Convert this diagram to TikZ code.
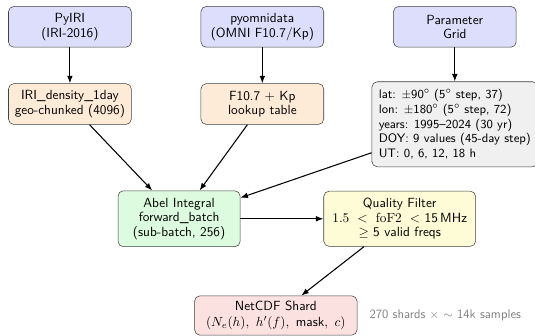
\documentclass[tikz,border=0pt]{standalone}
\usepackage{amsmath,amssymb}
\usepackage{tikz}
\usetikzlibrary{arrows.meta,positioning}
\definecolor{csrc}{RGB}{221,221,252}
\definecolor{cdata}{RGB}{253,235,215}
\definecolor{cgrid}{RGB}{240,240,240}
\definecolor{cabel}{RGB}{221,252,223}
\definecolor{cfilt}{RGB}{253,252,215}
\definecolor{cout}{RGB}{252,225,225}

\begin{document}
\begin{tikzpicture}[
  font=\fontsize{10}{10.9}\sffamily\selectfont,
  node distance=9.5mm and 18.3mm,
  source/.style={draw=black!75,rounded corners,fill=csrc,
                 align=center,minimum width=32.5mm,minimum height=10.8mm},
  dataset/.style={draw=black!75,rounded corners,fill=cdata,
                  align=center,minimum width=32.5mm,minimum height=10.8mm},
  gridbox/.style={draw=black!75,rounded corners,fill=cgrid,
                  align=left,minimum width=43.9mm,minimum height=22.5mm,
                  font=\fontsize{9.3}{11}\sffamily\selectfont},
  compute/.style={draw=black!75,rounded corners,fill=cabel,
                  align=center,minimum width=32.3mm,minimum height=14.8mm},
  filterbox/.style={draw=black!75,rounded corners,fill=cfilt,
                    align=center,minimum width=40.2mm,minimum height=14.6mm},
  output/.style={draw=black!75,rounded corners,fill=cout,
                 align=center,minimum width=43mm,minimum height=10.4mm},
  note/.style={text=black!50,font=\fontsize{9.5}{10}\sffamily\selectfont},
  flow/.style={-{Latex[length=2mm]},thick}
]
\useasboundingbox (0,0) rectangle (14.16,-8.89);

\node[source] (pyiri) at (1.85,-0.71) {PyIRI\\(IRI-2016)};
\node[source, right=of pyiri] (pyomni) {pyomnidata\\(OMNI F10.7/Kp)};
\node[source, right=of pyomni] (grid) {Parameter\\Grid};

\node[dataset, below=of pyiri] (iri) {IRI\_density\_1day\\geo-chunked (4096)};
\node[dataset, below=of pyomni] (lookup) {F10.7 + Kp\\lookup table};
\node[gridbox, below=9mm of grid] (params)
  {lat: $\pm$90$^\circ$ (5$^\circ$ step, 37)\\
   lon: $\pm$180$^\circ$ (5$^\circ$ step, 72)\\
   years: 1995--2024 (30 yr)\\
   DOY: 9 values (45-day step)\\
   UT: 0, 6, 12, 18 h};

\node[compute] (abel) at (4.74,-5.79) {Abel Integral\\forward\_batch\\(sub-batch, 256)};
\node[filterbox, right=22mm of abel] (quality)
  {Quality Filter\\$1.5\ <\ \mathrm{foF2}\ <\ $15\,MHz\\$\geq$ 5 valid freqs};

\node[output] (shard) at (7.30,-8.35)
  {NetCDF Shard\\[1pt]$(N_e(h),\ h'(f),\ \text{mask},\ c)$};
\node[note, right=2mm of shard] (count) {270 shards $\times$ $\sim$ 14k samples};

\draw[flow] (pyiri) -- (iri);
\draw[flow] (pyomni) -- (lookup);
\draw[flow] (grid) -- (params);
\draw[flow] (iri) -- (abel);
\draw[flow] (lookup) -- (abel);
\draw[flow] (params) -- (abel);
\draw[flow] (abel) -- (quality);
\draw[flow] (quality) -- (shard);
\end{tikzpicture}
\end{document}
